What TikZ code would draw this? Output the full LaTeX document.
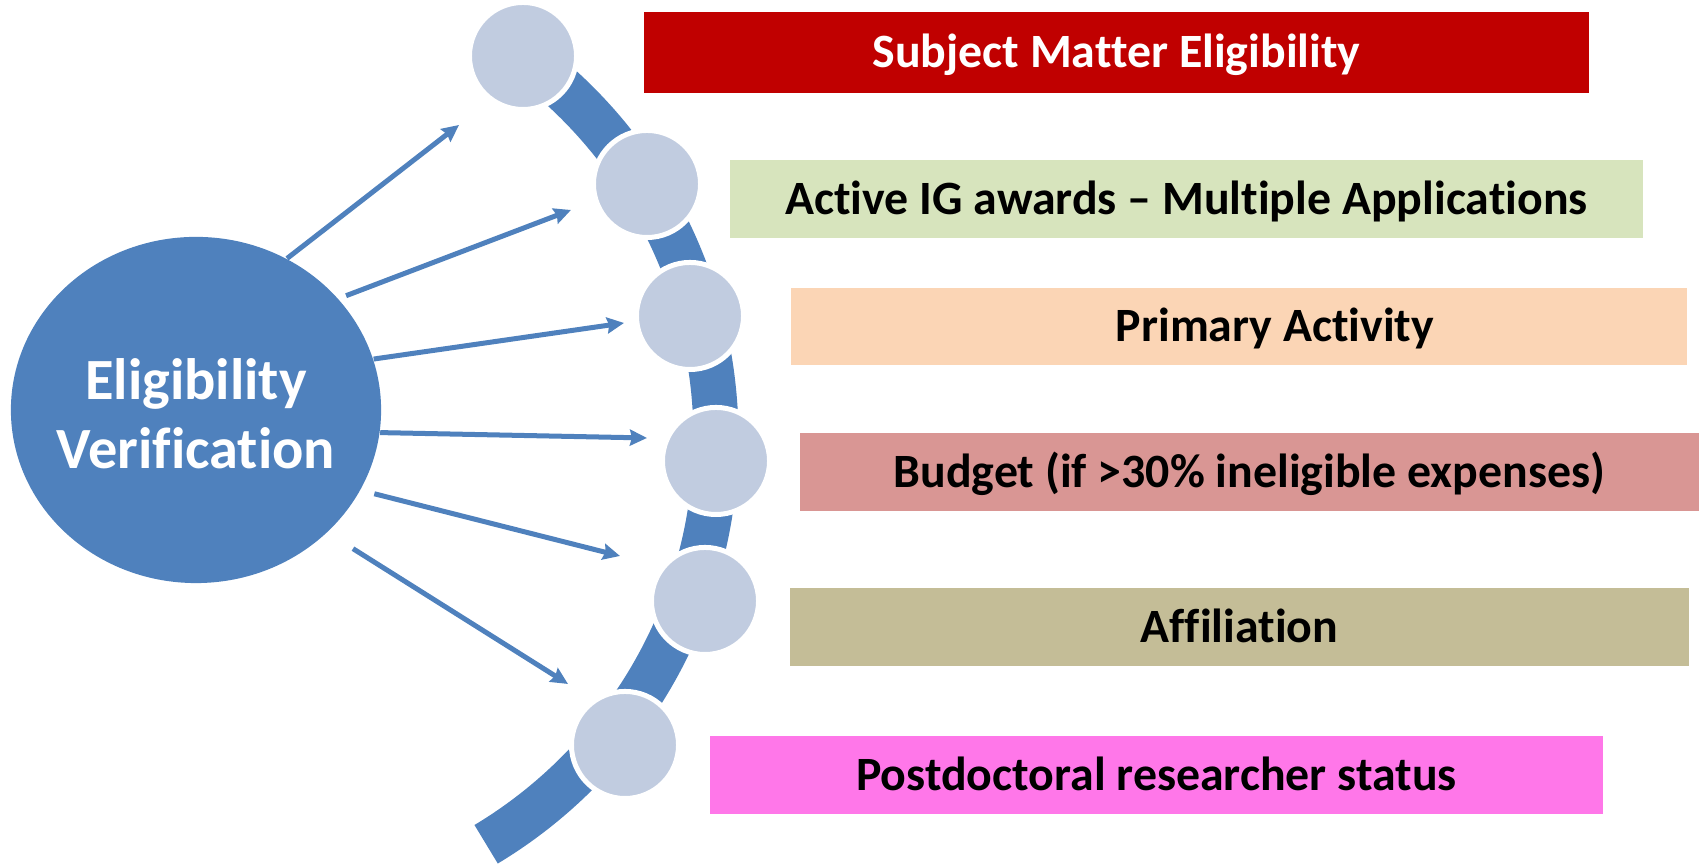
\documentclass[tikz,border=0pt]{standalone}
\usepackage{fontspec}
\setmainfont{Carlito}[Ligatures=NoCommon]
\usetikzlibrary{shapes.geometric,arrows.meta}
\definecolor{arcblue}{HTML}{4F81BD}
\definecolor{dotblue}{HTML}{C1CCE0}
\definecolor{redbox}{HTML}{C00000}
\definecolor{greenbox}{HTML}{D7E4BD}
\definecolor{peachbox}{HTML}{FBD5B5}
\definecolor{rosebox}{HTML}{D99694}
\definecolor{tanbox}{HTML}{C4BD97}
\definecolor{pinkbox}{HTML}{FF77E9}
\tikzset{
  dot/.style={circle,fill=dotblue,draw=white,line width=0.05cm,minimum size=1.07cm,inner sep=0pt},
  bar/.style={rectangle,inner sep=0pt,minimum height=0.78cm},
  bartext/.style={inner sep=0pt,text height=11pt,text depth=2.4pt,font=\fontsize{13.6}{16}\selectfont\bfseries},
  spoke/.style={->,arcblue,line width=0.05cm},
}
\begin{document}
\begin{tikzpicture}[x=0.01cm,y=0.01cm,line join=round,>={Stealth[length=0.17cm,width=0.16cm,inset=0.02cm]}]
	\useasboundingbox (0,0) rectangle (1702,865);
	% thick band behind the dots
	\draw[arcblue,line width=0.45cm] (242,427) ++(53.7:474) arc[start angle=53.7,end angle=-59,radius=474];
	\foreach \p [count=\i] in {(523,809),(647,681),(690,549),(716,404),(705,264),(625,120)}
		\node[dot] (d\i) at \p {};
	
	\node[ellipse,fill=arcblue,minimum width=3.7cm,minimum height=3.46cm,inner sep=0pt] (ev) at (196,455) {};
	\node[text=white,align=center,font=\fontsize{16.6}{19.6}\selectfont\bfseries] (evtext) at ([yshift=-0.04cm]ev.center) {Eligibility\\Verification};
	
	\coordinate (t1) at (459,740);
	\coordinate (t2) at (571,655);
	\coordinate (t3) at (624,542);
	\coordinate (t4) at (647,427);
	\coordinate (t5) at (620,309);
	\coordinate (t6) at (568,181);
	\draw[spoke] (ev.59) -- (t1);
	\draw[spoke,shorten <=0.08cm] (ev.38) -- (t2);
	\draw[spoke] (ev.16) -- (t3);
	\draw[spoke] (ev.-7.5) -- (t4);
	\draw[spoke,shorten <=0.14cm] (ev.-26.6) -- (t5);
	\draw[spoke,shorten <=0.3cm] (ev.-43.6) -- (t6);
	
	% coloured bars
	\node[bar,fill=redbox,minimum width=9.45cm,minimum height=0.81cm] (b1) at (1116.5,812.5) {};
	\node[bar,fill=greenbox,minimum width=9.13cm] (b2) at (1186.5,666) {};
	\node[bar,fill=peachbox,minimum width=8.96cm,minimum height=0.77cm] (b3) at (1239,538.5) {};
	\node[bar,fill=rosebox,minimum width=8.99cm] (b4) at (1249.5,393) {};
	\node[bar,fill=tanbox,minimum width=8.99cm] (b5) at (1239.5,238) {};
	\node[bar,fill=pinkbox,minimum width=8.93cm] (b6) at (1156.5,90) {};
	\node[bartext,text=white] (l1) at (b1.center) {Subject Matter Eligibility};
	\node[bartext] (l2) at (b2.center) {Active IG awards – Multiple Applications};
	\node[bartext] (l3) at ([xshift=0.36cm]b3.center) {Primary Activity};
	\node[bartext] (l4) at (b4.center) {Budget (if >30\% ineligible expenses)};
	\node[bartext] (l5) at (b5.center) {Affiliation};
	\node[bartext] (l6) at (b6.center) {Postdoctoral researcher status};
\end{tikzpicture}
\end{document}
